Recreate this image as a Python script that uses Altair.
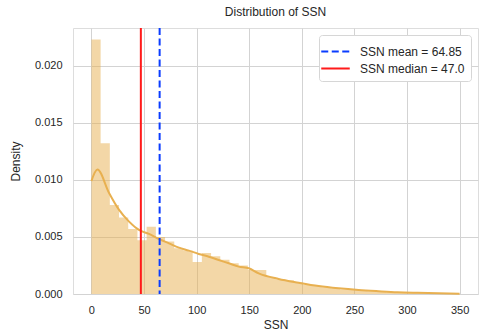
import altair as alt
import pandas as pd

# ---- data ----
bin_width = 8.75
bar_density = [0.0223, 0.0132, 0.0078, 0.0067, 0.0057, 0.0047, 0.0059, 0.0050,
               0.0046, 0.0040, 0.0038, 0.0028, 0.0036, 0.0033, 0.0030, 0.0027,
               0.0025, 0.0021, 0.0021, 0.0015, 0.0013, 0.0012, 0.0010, 0.0008,
               0.0007, 0.0006, 0.0005, 0.0004, 0.00035, 0.0003, 0.00025, 0.0002,
               0.00015, 0.00012, 0.0001, 0.00008, 0.00006, 0.00005, 0.00003, 0.00003]

kde_x = [0, 5.7, 16.9, 26.3, 35.8, 45.2, 54.7, 64.2, 73.7, 83.2, 92.7, 102, 111.6,
         121, 130.6, 140, 149.6, 159, 178, 197, 216, 235, 254, 273, 291, 310, 330, 350]
kde_y = [0.0099, 0.0109, 0.00883, 0.00737, 0.00634, 0.00561, 0.00526, 0.00482,
         0.00444, 0.00406, 0.0038, 0.00351, 0.00327, 0.00298, 0.00269, 0.0024,
         0.00225, 0.00181, 0.00132, 0.00099, 0.0007, 0.0005, 0.00035, 0.00024,
         0.00015, 0.0001, 0.00006, 0.00003]

stat_labels = ["SSN mean = 64.85", "SSN median = 47.0"]
stat_values = [64.85, 47.0]
stat_colors = ["#0a3cff", "#ff1a1a"]

x_ticks = [0, 50, 100, 150, 200, 250, 300, 350]
y_ticks = [0.0, 0.005, 0.010, 0.015, 0.020]

# step outline of the histogram: each bin's left edge, plus the final right edge
edges = [i * bin_width for i in range(len(bar_density) + 1)]
steps = pd.DataFrame({"x": edges, "density": bar_density + [bar_density[-1]]})
kde = pd.DataFrame({"x": kde_x, "y": kde_y})
stats = pd.DataFrame({"label": stat_labels, "value": stat_values})

FONT = "Liberation Sans"
GRID = "#d3d3d3"
TXT = "#262626"
HIST = "#e8b050"

xscale = alt.Scale(domain=[-17.5, 367.5], nice=False, zero=False)
yscale = alt.Scale(domain=[0, 0.0233], nice=False)

xaxis = alt.Axis(values=x_ticks, title="SSN", grid=True, gridColor=GRID, domain=False,
                 ticks=False, tickSize=0, labelPadding=10, labelFontSize=11,
                 labelColor=TXT, titleFontSize=12, titleColor=TXT,
                 titleFontWeight="normal", titlePadding=4, labelFont=FONT, titleFont=FONT)
yaxis = alt.Axis(values=y_ticks, format=".3f", title="Density", grid=True,
                 gridColor=GRID, domain=False, ticks=False, tickSize=0,
                 labelPadding=11, labelFontSize=11, labelColor=TXT,
                 titleFontSize=12, titleColor=TXT, titleFontWeight="normal",
                 titlePadding=12, labelFont=FONT, titleFont=FONT)

hist = alt.Chart(steps).mark_area(color=HIST, opacity=0.5, interpolate="step-after").encode(
    x=alt.X("x:Q", scale=xscale, axis=xaxis),
    y=alt.Y("density:Q", scale=yscale, axis=yaxis),
    y2=alt.datum(0),
)

line = alt.Chart(kde).mark_line(color=HIST, strokeWidth=2, interpolate="monotone").encode(
    x=alt.X("x:Q", scale=xscale),
    y=alt.Y("y:Q", scale=yscale),
)

rules = alt.Chart(stats).mark_rule(strokeWidth=2).encode(
    x=alt.X("value:Q", scale=xscale),
    color=alt.Color("label:N",
                    scale=alt.Scale(domain=stat_labels, range=stat_colors),
                    legend=alt.Legend(title=None, orient="top-right", offset=7,
                                      padding=6, fillColor="white",
                                      strokeColor="#d6d6d6", cornerRadius=3,
                                      symbolType="M-1.5,0L1.5,0", symbolSize=361,
                                      symbolStrokeWidth=2, labelFontSize=12,
                                      labelColor=TXT, labelFont=FONT,
                                      labelOffset=14, rowPadding=0)),
    strokeDash=alt.StrokeDash("label:N",
                              scale=alt.Scale(domain=stat_labels, range=[[7, 3.5], [1, 0]]),
                              legend=alt.Legend(title=None)),
)

chart = alt.layer(hist, line, rules).properties(
    width=405, height=266,
    title=alt.TitleParams("Distribution of SSN", fontSize=12, fontWeight="normal",
                          color=TXT, font=FONT, offset=8, anchor="middle"),
    autosize=alt.AutoSizeParams(type="none"),
    padding={"left": 73, "top": 28, "right": 2, "bottom": 42},
).configure_view(stroke=GRID, strokeWidth=1).configure(background="white")

chart.save("out.html", embed_options={"renderer": "svg", "actions": False})
